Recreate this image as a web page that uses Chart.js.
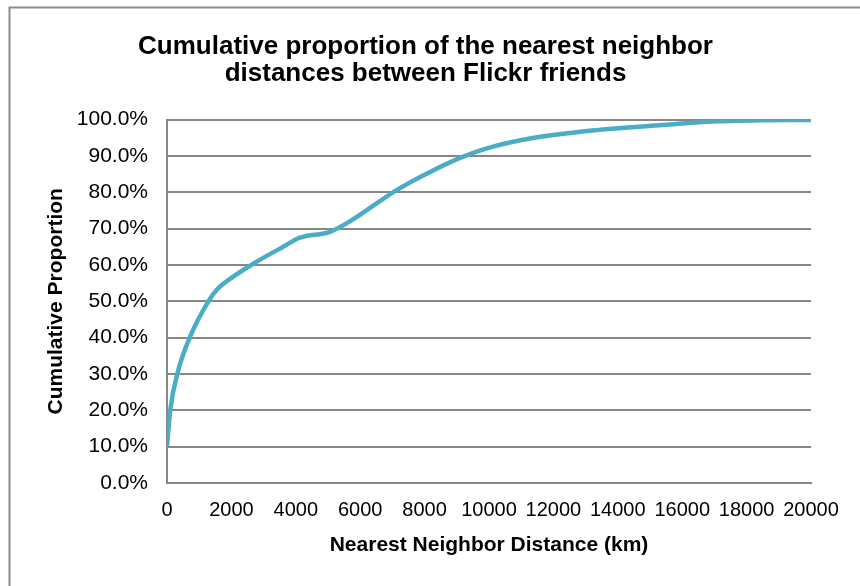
<!DOCTYPE html>
<html>
<head>
<meta charset="utf-8">
<script src="https://cdn.jsdelivr.net/npm/chart.js@4"></script>
<style>
	html, body { margin: 0; padding: 0; background: #fff; }
	#wrap { width: 860px; height: 586px; position: relative; }
</style>
</head>
<body>
<div id="wrap"><canvas id="chart-nn-distance"></canvas></div>
<script>
// distance (km) and cumulative proportion (%)
const DISTANCES = [0, 100, 350, 715, 1280, 1540, 2060, 2785, 3610, 4130, 5060, 5680, 7130, 8170, 9200, 9930, 11270, 13340, 15410, 16960, 18500, 20000];
const PROPORTIONS = [10, 20, 31, 40.2, 49.9, 53.1, 56.8, 60.9, 65, 67.5, 69.1, 72, 80.6, 85.6, 89.8, 92.1, 94.8, 97.1, 98.5, 99.5, 99.8, 99.9];
const X_TICKS = [0, 2000, 4000, 6000, 8000, 10000, 12000, 14000, 16000, 18000, 20000];
const Y_TICKS = [0, 10, 20, 30, 40, 50, 60, 70, 80, 90, 100];

const TITLE_LINES = ["Cumulative proportion of the nearest neighbor", "distances between Flickr friends"];
const FONT = "'Liberation Sans', Arial, sans-serif";
const GRID_COLOR = "#868686";

// frame line on the top and left edge, like the original
const frame = {
	id: "frame",
	afterDraw: (chart) => {
		const ctx = chart.ctx;
		ctx.save();
		ctx.strokeStyle = "#8c8c8c";
		ctx.lineWidth = 2;
		ctx.beginPath();
		ctx.moveTo(9.5, 586);
		ctx.lineTo(9.5, 7.5);
		ctx.lineTo(860, 7.5);
		ctx.stroke();
		ctx.restore();
	},
};

const points = DISTANCES.map((d, i) => ({ x: d, y: PROPORTIONS[i] }));

new Chart(document.getElementById("chart-nn-distance"), {
	type: "line",
	data: {
		datasets: [
			{
				label: "Cumulative Proportion",
				data: points,
				borderColor: "#4bacc6",
				borderWidth: 4.5,
				pointRadius: 0,
				cubicInterpolationMode: "monotone",
				fill: false,
			},
		],
	},
	options: {
		responsive: true,
		maintainAspectRatio: false,
		animation: false,
		layout: {
			padding: { left: 40, right: 49, top: 10, bottom: 20 },
		},
		plugins: {
			legend: { display: false },
			tooltip: { enabled: false },
			title: {
				display: true,
				text: TITLE_LINES,
				color: "#000",
				font: { family: FONT, size: 26, weight: "bold", lineHeight: 1.04 },
				padding: { top: 23.5, bottom: 32 },
			},
		},
		scales: {
			x: {
				type: "linear",
				min: 0,
				max: 20000,
				afterFit: (scale) => {
					scale.height = 586 - 20 - 483;
				},
				afterBuildTicks: (scale) => {
					scale.ticks = X_TICKS.map((v) => ({ value: v }));
				},
				border: { display: true, color: GRID_COLOR, width: 2 },
				grid: { display: false, drawTicks: false },
				ticks: {
					color: "#000",
					padding: 15,
					maxRotation: 0,
					autoSkip: false,
					font: { family: FONT, size: 20 },
					callback: (v) => String(v),
				},
				title: {
					display: true,
					text: "Nearest Neighbor Distance (km)",
					color: "#000",
					font: { family: FONT, size: 21, weight: "bold" },
					padding: { top: 4, bottom: 8 },
				},
			},
			y: {
				min: 0,
				max: 100,
				afterFit: (scale) => {
					scale.width = 167 - 40;
				},
				afterBuildTicks: (scale) => {
					scale.ticks = Y_TICKS.map((v) => ({ value: v }));
				},
				border: { display: true, color: GRID_COLOR, width: 2 },
				grid: { color: GRID_COLOR, lineWidth: 2, drawTicks: false },
				ticks: {
					color: "#000",
					padding: 19,
					autoSkip: false,
					font: { family: FONT, size: 21 },
					callback: (v) => v.toFixed(1) + "%",
				},
				title: {
					display: true,
					text: "Cumulative Proportion",
					color: "#000",
					font: { family: FONT, size: 21, weight: "bold" },
					padding: { top: 4, bottom: 4 },
				},
			},
		},
	},
	plugins: [frame],
});
</script>
</body>
</html>
